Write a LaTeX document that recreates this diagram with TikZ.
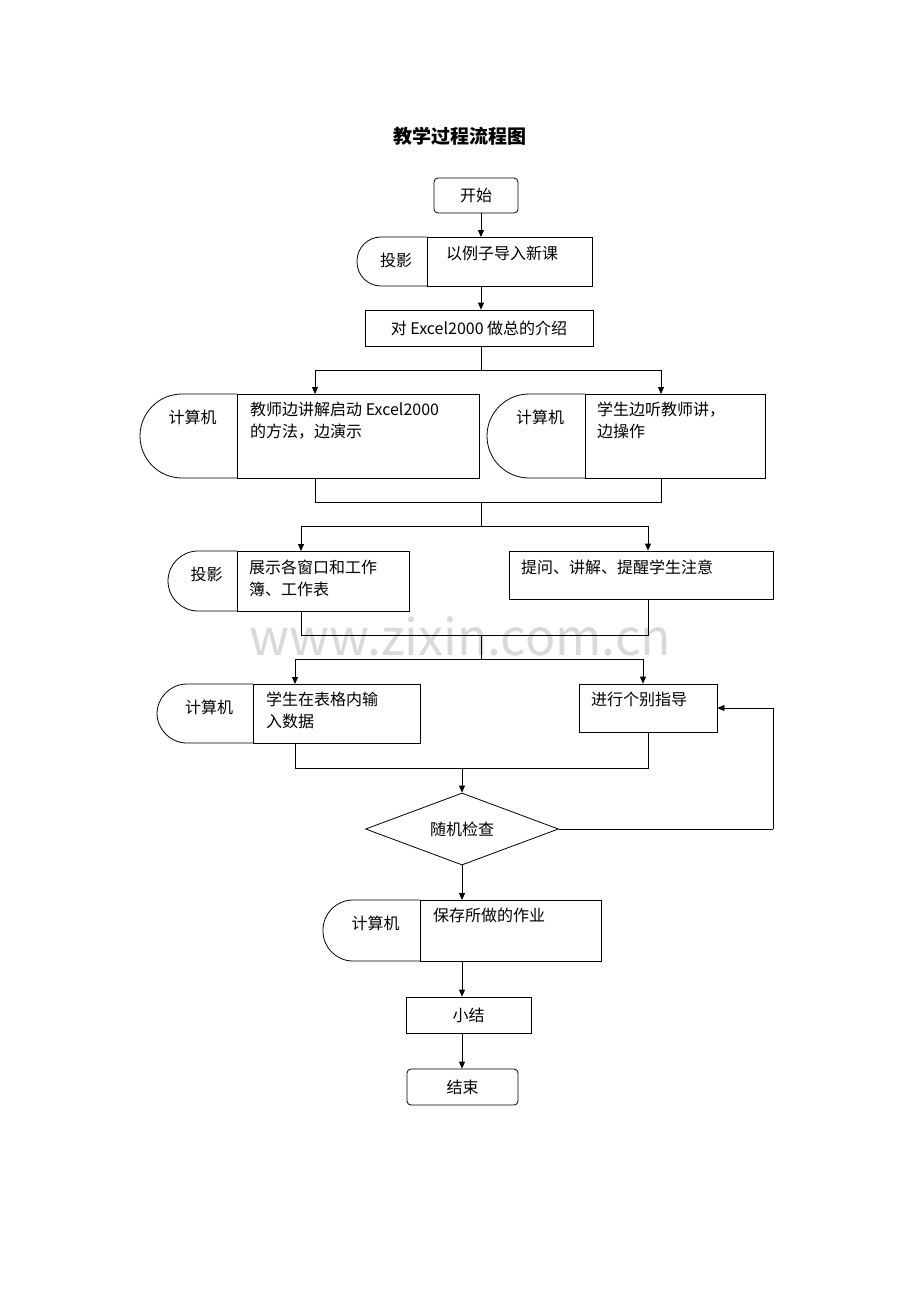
\documentclass[tikz,border=0pt]{standalone}
\usepackage{fontspec}
\setmainfont{Liberation Serif}
\newfontfamily\cjk{Noto Sans CJK SC}
\usetikzlibrary{shapes.geometric,arrows.meta}
\tikzset{
  box/.style={draw,thick,inner sep=0},
  lab/.style={anchor=north west,align=left,font=\cjk\fontsize{16}{22}\selectfont,inner sep=0},
  arr/.style={thick,-{Triangle[length=7,width=6]}},
  ln/.style={thick}
}
% display shape: left part x1..x2, right box x2..x3, top t, bottom b
\newcommand\dispbox[8]{%
  \draw[thick,rounded corners=#8] (#2,#4) -- (#1,#4) -- (#1,#5) -- (#2,#5);
  \draw[thick] (#2,#4) rectangle (#3,#5);
  \node[font=\cjk\fontsize{16}{22}\selectfont] at ({(#1+#2)/2+4},#4+23) {#6};
  \coordinate (#7-n) at ({(#1+#3)/2},#4);
}
\begin{document}
\begin{tikzpicture}[x=1pt,y=-1pt]
\useasboundingbox (0,0) rectangle (920,1302);

\node[font=\cjk\bfseries\fontsize{19}{22}\selectfont] (title) at (460,136) {教学过程流程图};
\node[font=\cjk\fontsize{50}{50}\selectfont,text=black!15] (wm) at (460,636) {www.zixin.com.cn};

% start
\node[box,rounded corners=4,minimum width=84,minimum height=35,font=\cjk\fontsize{16}{22}\selectfont] (start) at (476,195.5) {开始};

% row 1
\dispbox{357}{427}{592}{237}{286}{投影}{d1}{24}
\node[lab] (t1) at (446,246) {以例子导入新课};
\coordinate (d1t) at (481,237);
\coordinate (d1b) at (481,286);
\draw[arr] (start.south -| d1t) -- (d1t);

\node[box,minimum width=228,minimum height=36,font=\cjk\fontsize{16}{22}\selectfont] (intro) at (479,328) {对 Excel2000 做总的介绍};
\draw[arr] (d1b) -- (intro.north -| d1b);

% row 2
\coordinate (s2) at (481,370);
\dispbox{140}{237}{479}{394}{478}{计算机}{d2}{42}
\dispbox{487}{585}{765}{394}{478}{计算机}{d3}{42}
\node[lab] (t2) at (250,402) {教师边讲解启动 Excel2000\\的方法，边演示};
\node[lab] (t3) at (597,402) {学生边听教师讲，\\边操作};
\draw[ln] (intro.south -| s2) -- (s2);
\draw[ln] (315,370) -- (661,370);
\coordinate (a2l) at (315,394); \coordinate (a2r) at (661,394);
\draw[arr] (315,370) -- (a2l);
\draw[arr] (661,370) -- (a2r);
\draw[ln] (315,478) -- (315,502) -- (661,502) -- (661,478);

% row 3
\dispbox{168}{237}{409}{551}{611}{投影}{d4}{30}
\node[lab] (t4) at (249,560) {展示各窗口和工作\\簿、工作表};
\node[box,minimum width=264,minimum height=48] (ask) at (641,575) {};
\node[lab] (t5) at (521,560) {提问、讲解、提醒学生注意};
\draw[ln] (481,502) -- (481,526);
\draw[ln] (301,526) -- (648,526);
\coordinate (a3l) at (301,551);
\draw[arr] (301,526) -- (a3l);
\draw[arr] (648,526) -- (ask.north -| 648,0);
\draw[ln] (301,611) -- (301,635) -- (648,635) -- (ask.south -| 648,0);

% row 4
\dispbox{157}{253}{420}{684}{743}{计算机}{d5}{30}
\node[lab] (t6) at (266,692) {学生在表格内输\\入数据};
\node[box,minimum width=138,minimum height=48] (guide) at (648,708) {};
\node[lab] (t7) at (591,692) {进行个别指导};
\draw[ln] (481,635) -- (481,659);
\draw[ln] (295,659) -- (643,659);
\coordinate (a4l) at (295,684);
\draw[arr] (295,659) -- (a4l);
\draw[arr] (643,659) -- (guide.north -| 643,0);
\draw[ln] (295,743) -- (295,768) -- (648,768) -- (guide.south -| 648,0);

% check
\node[draw,thick,diamond,aspect=2.7,inner sep=0,minimum width=193,minimum height=72,font=\cjk\fontsize{16}{22}\selectfont] (chk) at (462,829) {随机检查};
\coordinate (m4) at (462,768);
\draw[arr] (m4) -- (chk.north);
\coordinate (fb) at (773,829);
\draw[ln] (chk.east) -- (fb);
\draw[arr] (fb) |- (guide.east);

% save
\dispbox{323}{420}{601}{900}{961}{计算机}{d6}{30}
\node[lab] (t8) at (433,908) {保存所做的作业};
\coordinate (a6) at (462,900); \coordinate (b6) at (462,961);
\draw[arr] (chk.south) -- (a6);

\node[box,minimum width=125,minimum height=36,font=\cjk\fontsize{16}{22}\selectfont] (sum) at (468.5,1015) {小结};
\draw[arr] (b6) -- (sum.north -| b6);
\node[box,rounded corners=4,minimum width=111,minimum height=36,font=\cjk\fontsize{16}{22}\selectfont] (end) at (462.5,1087) {结束};
\draw[arr] (sum.south -| b6) -- (end.north -| b6);
\end{tikzpicture}
\end{document}
